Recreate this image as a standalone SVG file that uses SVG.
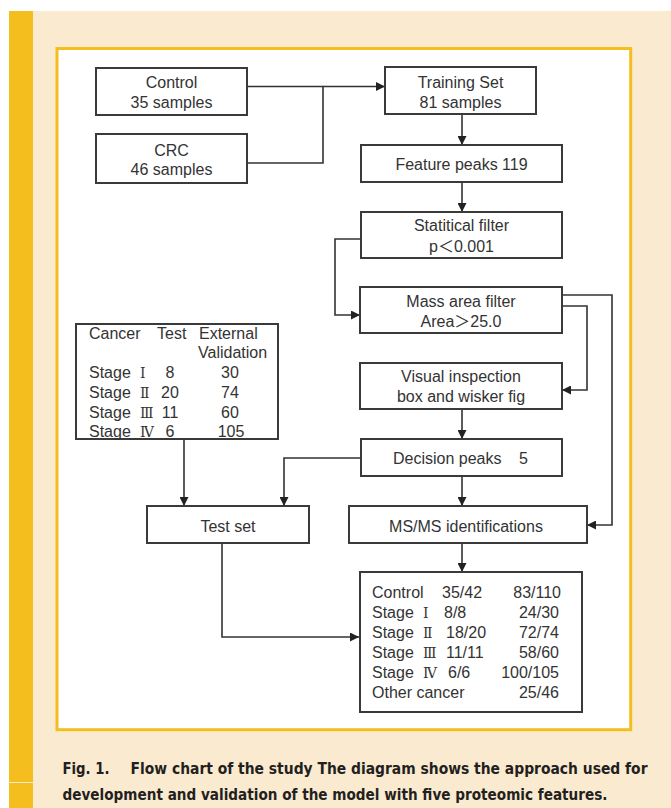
<svg xmlns="http://www.w3.org/2000/svg" width="671" height="808" viewBox="0 0 671 808">
<style>
.box{fill:#fff;stroke:#3a3a3a;stroke-width:2}
.ln{fill:none;stroke:#333;stroke-width:1.6}
.t{font-family:"Liberation Sans","Noto Sans CJK SC",Arial,sans-serif;font-size:16px;fill:#333}
.m{text-anchor:middle}
.e{text-anchor:end}
.rn{font-family:"DejaVu Serif","Noto Sans CJK SC",serif;font-size:14px}
.cap{font-family:"DejaVu Sans","Noto Sans",sans-serif;font-stretch:condensed;font-weight:bold;font-size:16.5px;fill:#231f20}
</style>
<defs>
<marker id="ah" viewBox="0 0 10 10" refX="10" refY="5" markerWidth="9" markerHeight="9" markerUnits="userSpaceOnUse" orient="auto">
<path d="M0,0 L10,5 L0,10 z" fill="#222"/>
</marker>
</defs>
<rect x="0" y="0" width="671" height="808" fill="#fff"/>
<rect x="33" y="11" width="638" height="797" fill="#faebd0"/>
<rect x="9" y="11" width="24" height="797" fill="#f4be1e"/>
<rect x="9" y="782" width="24" height="1" fill="#faebd0"/>
<rect x="57" y="48.5" width="573.7" height="681.2" fill="#fff" stroke="#f4be1e" stroke-width="3"/>

<g id="connectors">
<path class="ln" d="M247,86.5 H323 V163 H247"/>
<path class="ln" d="M323,86.5 H385" marker-end="url(#ah)"/>
<path class="ln" d="M462,114 V145" marker-end="url(#ah)"/>
<path class="ln" d="M462,182 V212" marker-end="url(#ah)"/>
<path class="ln" d="M361,239 H335 V315 H360" marker-end="url(#ah)"/>
<path class="ln" d="M562,295 H612 V525 H587" marker-end="url(#ah)"/>
<path class="ln" d="M562,306 H587 V390 H562" marker-end="url(#ah)"/>
<path class="ln" d="M462,409 V439" marker-end="url(#ah)"/>
<path class="ln" d="M361,458 H284 V506" marker-end="url(#ah)"/>
<path class="ln" d="M184,439 V506" marker-end="url(#ah)"/>
<path class="ln" d="M462,476 V506" marker-end="url(#ah)"/>
<path class="ln" d="M462,543 V572" marker-end="url(#ah)"/>
<path class="ln" d="M222,543 V637 H359" marker-end="url(#ah)"/>
</g>

<g id="control">
<rect class="box" x="96" y="68" width="151" height="47"/>
<text class="t m" x="171.5" y="88">Control</text>
<text class="t m" x="171.5" y="108">35 samples</text>
</g>
<g id="crc">
<rect class="box" x="96" y="134" width="151" height="49"/>
<text class="t m" x="171.5" y="156">CRC</text>
<text class="t m" x="171.5" y="175">46 samples</text>
</g>
<g id="training">
<rect class="box" x="385" y="67" width="151" height="47"/>
<text class="t m" x="460.5" y="88">Training Set</text>
<text class="t m" x="460.5" y="108">81 samples</text>
</g>
<g id="feature">
<rect class="box" x="361" y="145" width="201" height="37"/>
<text class="t m" x="461.5" y="170">Feature peaks 119</text>
</g>
<g id="statfilter">
<rect class="box" x="361" y="212" width="201" height="46"/>
<text class="t m" x="461.5" y="231">Statitical filter</text>
<text class="t m" x="461.5" y="252">p＜0.001</text>
</g>
<g id="massfilter">
<rect class="box" x="360" y="287" width="202" height="46"/>
<text class="t m" x="461" y="307">Mass area filter</text>
<text class="t m" x="461" y="327">Area＞25.0</text>
</g>
<g id="visual">
<rect class="box" x="360" y="363" width="202" height="46"/>
<text class="t m" x="461" y="382">Visual inspection</text>
<text class="t m" x="461" y="402">box and wisker fig</text>
</g>
<g id="decision">
<rect class="box" x="361" y="439" width="201" height="37"/>
<text class="t" x="393" y="464">Decision peaks</text>
<text class="t" x="519" y="464">5</text>
</g>
<g id="msms">
<rect class="box" x="349" y="506" width="238" height="37"/>
<text class="t m" x="466" y="532">MS/MS identifications</text>
</g>
<g id="testset">
<rect class="box" x="147" y="506" width="162" height="37"/>
<text class="t m" x="228" y="532">Test set</text>
</g>
<g id="table">
<rect class="box" x="76" y="324" width="202" height="115"/>
<text class="t" x="89" y="339">Cancer</text>
<text class="t" x="157" y="339">Test</text>
<text class="t" x="199" y="339">External</text>
<text class="t" x="198" y="358">Validation</text>
<text class="t" x="89" y="378">Stage</text><text class="t rn" x="140" y="378">Ⅰ</text>
<text class="t m" x="170" y="378">8</text><text class="t m" x="230" y="378">30</text>
<text class="t" x="89" y="398">Stage</text><text class="t rn" x="140" y="398">Ⅱ</text>
<text class="t m" x="170" y="398">20</text><text class="t m" x="230" y="398">74</text>
<text class="t" x="89" y="418">Stage</text><text class="t rn" x="140" y="418">Ⅲ</text>
<text class="t m" x="170" y="418">11</text><text class="t m" x="230" y="418">60</text>
<text class="t" x="89" y="437">Stage</text><text class="t rn" x="140" y="437">Ⅳ</text>
<text class="t m" x="170" y="437">6</text><text class="t m" x="231" y="437">105</text>
</g>
<g id="results">
<rect class="box" x="360" y="572" width="222" height="140"/>
<text class="t" x="372" y="598">Control</text><text class="t" x="442" y="598">35/42</text><text class="t e" x="561" y="598">83/110</text>
<text class="t" x="372" y="618">Stage</text><text class="t rn" x="423" y="618">Ⅰ</text><text class="t" x="444" y="618">8/8</text><text class="t e" x="559" y="618">24/30</text>
<text class="t" x="372" y="638">Stage</text><text class="t rn" x="423" y="638">Ⅱ</text><text class="t" x="446" y="638">18/20</text><text class="t e" x="559" y="638">72/74</text>
<text class="t" x="372" y="658">Stage</text><text class="t rn" x="423" y="658">Ⅲ</text><text class="t" x="446" y="658">11/11</text><text class="t e" x="559" y="658">58/60</text>
<text class="t" x="372" y="678">Stage</text><text class="t rn" x="423" y="678">Ⅳ</text><text class="t" x="448" y="678">6/6</text><text class="t e" x="559" y="678">100/105</text>
<text class="t" x="372" y="698">Other cancer</text><text class="t e" x="559" y="698">25/46</text>
</g>
<g id="caption">
<text class="cap" x="62.5" y="774" textLength="47" lengthAdjust="spacingAndGlyphs">Fig. 1.</text>
<text class="cap" x="130.5" y="774" textLength="517" lengthAdjust="spacingAndGlyphs">Flow chart of the study The diagram shows the approach used for</text>
<text class="cap" x="62.5" y="800" textLength="545" lengthAdjust="spacingAndGlyphs">development and validation of the model with five proteomic features.</text>
</g>
</svg>
